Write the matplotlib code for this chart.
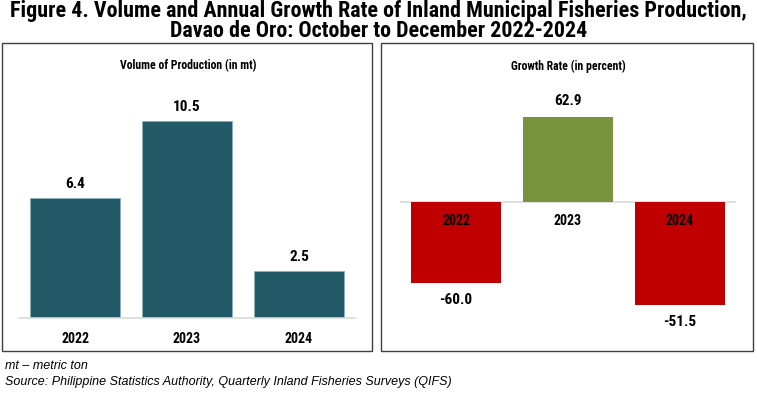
import matplotlib.pyplot as plt
from matplotlib.patches import Rectangle
from matplotlib import font_manager

years = ['2022', '2023', '2024']
volume = [6.4, 10.5, 2.5]
# bar lengths as drawn in the source picture, and the labels printed on them
growth_bars = [-60.0, 62.9, -76.2]
growth_labels = ['-60.0', '62.9', '-51.5']

names = {f.name for f in font_manager.fontManager.ttflist}


def pick(cands):
    for c in cands:
        if c in names:
            return c
    return 'DejaVu Sans'


chart_font = pick(['Roboto Condensed', 'Archivo Narrow', 'PT Sans Narrow',
                   'Barlow Semi Condensed', 'Encode Sans Condensed'])

W, H = 757, 394
fig = plt.figure(figsize=(W / 100, H / 100), dpi=100)


def px_axes(left, top, right, bottom):
    return fig.add_axes([left / W, 1 - bottom / H, (right - left) / W, (bottom - top) / H])


# panel frames
for x0, x1 in [(2, 372), (381, 753)]:
    fig.patches.append(Rectangle((x0 / W, 1 - 351 / H), (x1 - x0) / W, (351 - 43) / H,
                                 transform=fig.transFigure, fill=False,
                                 edgecolor='#404040', linewidth=1))

fig.text(0.5, 1 - 11 / H, 'Figure 4. Volume and Annual Growth Rate of Inland Municipal Fisheries Production,',
         ha='center', va='center', fontsize=15.8, fontweight='bold', family=chart_font)
fig.text(0.5, 1 - 31 / H, 'Davao de Oro: October to December 2022-2024',
         ha='center', va='center', fontsize=15.8, fontweight='bold', family=chart_font)

# left: volume
ax1 = px_axes(19, 93, 355, 318)
ax1.bar(range(3), volume, width=0.8, color='#225966', edgecolor='#8fb0b8', linewidth=0.6)
ax1.set_xlim(-0.5, 2.5)
ax1.set_ylim(0, 12)
for i, v in enumerate(volume):
    ax1.annotate(f'{v:.1f}', (i, v), xytext=(0, 5), textcoords='offset points',
                 ha='center', va='bottom', fontsize=11, fontweight='bold', family=chart_font)
ax1.set_xticks(range(3), years)
ax1.tick_params(axis='x', length=0, pad=10, labelsize=10)
for t in ax1.get_xticklabels():
    t.set_fontweight('bold'); t.set_family(chart_font)
ax1.set_yticks([])
for s in ['top', 'left', 'right']:
    ax1.spines[s].set_visible(False)
ax1.spines['bottom'].set_color('#d9d9d9')
ax1.spines['bottom'].set_linewidth(1.2)
fig.text(188 / W, 1 - 66 / H, 'Volume of Production (in mt)', ha='center', va='center',
         fontsize=8.5, fontweight='bold', family=chart_font)

# right: growth rate
ax2 = px_axes(400, 107, 736, 324)
colors = ['#C00000' if g < 0 else '#77933C' for g in growth_bars]
ax2.bar(range(3), growth_bars, width=0.8, color=colors)
ax2.set_xlim(-0.5, 2.5)
ax2.set_ylim(-90, 70)
ax2.axhline(0, color='#d9d9d9', linewidth=1.2, zorder=0.5)
for i, (g, lab) in enumerate(zip(growth_bars, growth_labels)):
    if g >= 0:
        ax2.annotate(lab, (i, g), xytext=(0, 6), textcoords='offset points',
                     ha='center', va='bottom', fontsize=11, fontweight='bold', family=chart_font)
    else:
        ax2.annotate(lab, (i, g), xytext=(0, -7), textcoords='offset points',
                     ha='center', va='top', fontsize=11, fontweight='bold', family=chart_font)
    ax2.annotate(years[i], (i, 0), xytext=(0, -9), textcoords='offset points',
                 ha='center', va='top', fontsize=10, fontweight='bold', family=chart_font)
ax2.set_xticks([])
ax2.set_yticks([])
for s in ax2.spines.values():
    s.set_visible(False)
fig.text(568 / W, 1 - 66 / H, 'Growth Rate (in percent)', ha='center', va='center',
         fontsize=8.5, fontweight='bold', family=chart_font)

fig.text(5 / W, 1 - 366 / H, 'mt \u2013 metric ton', ha='left', va='center',
         fontsize=9, style='italic', family='Liberation Sans')
fig.text(5 / W, 1 - 382 / H, 'Source: Philippine Statistics Authority, Quarterly Inland Fisheries Surveys (QIFS)',
         ha='left', va='center', fontsize=9, style='italic', family='Liberation Sans')

fig.savefig('out.png', dpi=100)
